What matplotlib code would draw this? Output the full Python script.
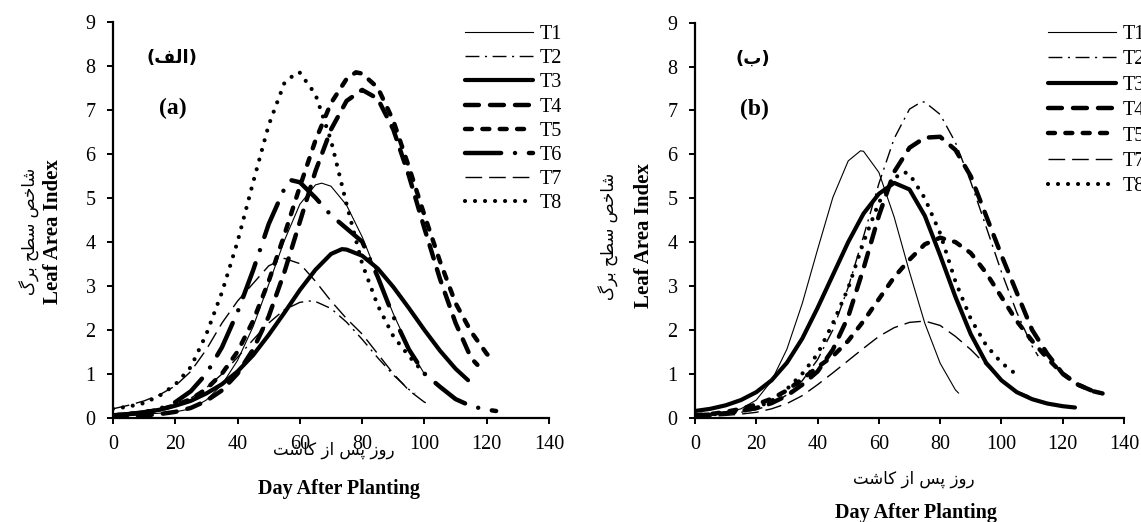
import matplotlib.pyplot as plt

plt.rcParams['font.family'] = ['Liberation Serif', 'DejaVu Sans']
plt.rcParams['lines.scale_dashes'] = False

labels = ["T1", "T2", "T3", "T4", "T5", "T6", "T7", "T8"]

# panel (a)
a_t1_x = [0, 5, 10, 15, 20, 25, 30, 35, 40, 45, 50, 55, 60, 65, 67, 70, 75, 80, 85, 90, 95, 100]
a_t1_y = [0.05, 0.06, 0.08, 0.1, 0.13, 0.2, 0.4, 0.75, 1.3, 2.07, 3.03, 4.02, 4.85, 5.29, 5.33, 5.26, 4.83, 4.11, 3.23, 2.36, 1.59, 0.99]
a_t2_x = [0, 5, 10, 15, 20, 25, 30, 35, 40, 45, 50, 55, 60, 63, 65, 70, 75, 80, 85, 90, 95, 97]
a_t2_y = [0.05, 0.07, 0.1, 0.15, 0.26, 0.44, 0.68, 0.99, 1.37, 1.77, 2.15, 2.45, 2.62, 2.65, 2.64, 2.48, 2.17, 1.78, 1.36, 0.97, 0.64, 0.55]
a_t3_x = [0, 5, 10, 15, 20, 25, 30, 35, 40, 45, 50, 55, 60, 65, 70, 73.5, 75, 80, 85, 90, 95, 100, 105, 110, 114]
a_t3_y = [0.05, 0.08, 0.12, 0.18, 0.27, 0.38, 0.55, 0.76, 1.05, 1.42, 1.88, 2.38, 2.9, 3.36, 3.72, 3.83, 3.82, 3.68, 3.39, 2.97, 2.49, 1.99, 1.52, 1.11, 0.85]
a_t4_x = [0, 5, 10, 15, 20, 25, 30, 35, 40, 45, 50, 55, 60, 65, 70, 75, 80, 85, 90, 95, 100, 105, 110, 115, 117]
a_t4_y = [0.03, 0.04, 0.05, 0.08, 0.13, 0.22, 0.38, 0.62, 1.0, 1.55, 2.3, 3.3, 4.45, 5.6, 6.55, 7.2, 7.45, 7.25, 6.55, 5.5, 4.3, 3.15, 2.15, 1.35, 1.2]
a_t5_x = [0, 5, 10, 15, 20, 25, 30, 35, 40, 45, 50, 55, 60, 65, 70, 75, 78, 80, 85, 90, 95, 100, 105, 110, 115, 120, 122]
a_t5_y = [0.05, 0.08, 0.12, 0.18, 0.28, 0.42, 0.65, 1.0, 1.5, 2.2, 3.1, 4.15, 5.25, 6.3, 7.15, 7.7, 7.85, 7.82, 7.5, 6.75, 5.7, 4.6, 3.55, 2.6, 1.95, 1.45, 1.3]
a_t6_x = [0, 5, 10, 15, 20, 25, 30, 35, 40, 45, 50, 55, 57, 60, 65, 70, 75, 80, 85, 90, 95, 100, 105, 110, 115, 120, 123]
a_t6_y = [0.05, 0.08, 0.12, 0.2, 0.35, 0.6, 1.0, 1.6, 2.4, 3.35, 4.4, 5.2, 5.4, 5.35, 5.0, 4.6, 4.3, 4.0, 3.2, 2.3, 1.55, 1.0, 0.7, 0.42, 0.26, 0.18, 0.15]
a_t7_x = [0, 5, 10, 15, 20, 25, 30, 35, 40, 45, 50, 55, 60, 65, 70, 75, 80, 85, 90, 95, 100, 102]
a_t7_y = [0.2, 0.28, 0.38, 0.52, 0.72, 1.05, 1.55, 2.15, 2.65, 3.05, 3.45, 3.62, 3.5, 3.1, 2.65, 2.25, 1.9, 1.45, 1.0, 0.62, 0.35, 0.3]
a_t8_x = [0, 5, 10, 15, 20, 25, 30, 35, 40, 45, 50, 55, 59, 60, 65, 70, 75, 80, 85, 90, 95, 100, 101]
a_t8_y = [0.2, 0.25, 0.33, 0.5, 0.75, 1.15, 1.9, 2.85, 4.0, 5.35, 6.65, 7.6, 7.85, 7.84, 7.35, 6.3, 4.85, 3.5, 2.55, 1.85, 1.4, 1.0, 0.96]

# panel (b), T6 not shown
b_t1_x = [0, 5, 10, 15, 20, 25, 30, 35, 40, 45, 50, 54, 55, 60, 65, 70, 75, 80, 85, 86]
b_t1_y = [0.05, 0.06, 0.11, 0.2, 0.4, 0.84, 1.56, 2.6, 3.83, 5.02, 5.85, 6.08, 6.07, 5.59, 4.57, 3.32, 2.15, 1.24, 0.63, 0.56]
b_t2_x = [0, 5, 10, 15, 20, 25, 30, 35, 40, 45, 50, 55, 60, 65, 70, 74, 75, 80, 85, 90, 95, 100, 105, 110, 112]
b_t2_y = [0.05, 0.06, 0.08, 0.12, 0.18, 0.3, 0.52, 0.84, 1.32, 2.0, 2.97, 4.13, 5.33, 6.36, 7.03, 7.2, 7.19, 6.91, 6.27, 5.37, 4.35, 3.32, 2.4, 1.63, 1.4]
b_t3_x = [0, 5, 10, 15, 20, 25, 30, 35, 40, 45, 50, 55, 60, 65, 70, 75, 80, 85, 90, 95, 100, 105, 110, 115, 120, 124]
b_t3_y = [0.15, 0.2, 0.28, 0.4, 0.58, 0.85, 1.25, 1.8, 2.5, 3.25, 4.0, 4.65, 5.1, 5.35, 5.2, 4.6, 3.7, 2.75, 1.9, 1.25, 0.85, 0.58, 0.42, 0.32, 0.26, 0.23]
b_t4_x = [0, 5, 10, 15, 20, 25, 30, 35, 40, 45, 50, 55, 60, 65, 70, 75, 80, 85, 90, 95, 100, 105, 110, 115, 120, 125, 130, 133]
b_t4_y = [0.05, 0.07, 0.1, 0.15, 0.22, 0.33, 0.5, 0.75, 1.05, 1.55, 2.3, 3.4, 4.6, 5.6, 6.15, 6.38, 6.4, 6.1, 5.5, 4.6, 3.7, 2.85, 2.0, 1.45, 1.0, 0.75, 0.6, 0.55]
b_t5_x = [0, 5, 10, 15, 20, 25, 30, 35, 40, 45, 50, 55, 60, 65, 70, 75, 80, 85, 90, 95, 100, 105, 110, 115, 120, 125, 130, 133]
b_t5_y = [0.05, 0.08, 0.13, 0.2, 0.3, 0.43, 0.62, 0.88, 1.15, 1.4, 1.75, 2.2, 2.7, 3.2, 3.6, 3.95, 4.1, 4.0, 3.75, 3.3, 2.75, 2.2, 1.75, 1.35, 1.0, 0.75, 0.6, 0.55]
b_t7_x = [0, 5, 10, 15, 20, 25, 30, 35, 40, 45, 50, 55, 60, 65, 70, 75, 80, 85, 90, 95, 100, 105, 109]
b_t7_y = [0.02, 0.03, 0.05, 0.08, 0.12, 0.2, 0.32, 0.5, 0.75, 1.02, 1.3, 1.58, 1.85, 2.05, 2.17, 2.2, 2.1, 1.85, 1.55, 1.2, 0.85, 0.6, 0.49]
b_t8_x = [0, 5, 10, 15, 20, 25, 30, 35, 40, 45, 50, 55, 60, 65, 68, 70, 75, 80, 85, 90, 95, 100, 106]
b_t8_y = [0.05, 0.07, 0.1, 0.15, 0.23, 0.38, 0.65, 1.0, 1.45, 2.15, 2.95, 4.0, 4.9, 5.45, 5.6, 5.55, 5.0, 4.2, 3.1, 2.25, 1.65, 1.25, 0.92]

# line styles for T1..T8
styles = {
    "T1": dict(lw=0.8, ls="-"),
    "T2": dict(lw=1.0, dashes=(10, 4, 1.5, 4)),
    "T3": dict(lw=3.0, ls="-", solid_capstyle="round"),
    "T4": dict(lw=3.2, dashes=(10, 8), dash_capstyle="round"),
    "T5": dict(lw=3.2, dashes=(5, 7.5), dash_capstyle="round"),
    "T6": dict(lw=3.2, dashes=(26, 10, 0.01, 10), dash_capstyle="round"),
    "T7": dict(lw=1.0, dashes=(12, 5)),
    "T8": dict(lw=3.0, dashes=(0.01, 7.2), dash_capstyle="round"),
}

persian_y = "\uFB92\uFEAE\uFE91 \uFEA2\uFEC4\uFEB3 \uFEBA\uFEA7\uFE8E\uFEB7"
persian_x = "\uFE96\uFEB7\uFE8E\uFB90 \uFEAF\uFE8D \uFEB2\uFB58 \uFEAF\uFEED\uFEAD"
persian_a = "(\uFED2\uFEDF\uFE8D)"
persian_b = "(\uFE8F)"

fig = plt.figure(figsize=(11.41, 5.22), dpi=100)
ax1 = fig.add_axes([0.0990, 0.2000, 0.3822, 0.7584])
ax2 = fig.add_axes([0.6091, 0.2000, 0.3760, 0.7565])

series_a = [(a_t1_x, a_t1_y, "T1"), (a_t2_x, a_t2_y, "T2"), (a_t3_x, a_t3_y, "T3"),
            (a_t4_x, a_t4_y, "T4"), (a_t5_x, a_t5_y, "T5"), (a_t6_x, a_t6_y, "T6"),
            (a_t7_x, a_t7_y, "T7"), (a_t8_x, a_t8_y, "T8")]
series_b = [(b_t1_x, b_t1_y, "T1"), (b_t2_x, b_t2_y, "T2"), (b_t3_x, b_t3_y, "T3"),
            (b_t4_x, b_t4_y, "T4"), (b_t5_x, b_t5_y, "T5"),
            (b_t7_x, b_t7_y, "T7"), (b_t8_x, b_t8_y, "T8")]

for ax, series, legx, lsp, pa, pl in [(ax1, series_a, 0.4075, 0.25, persian_a, "(a)"),
                                      (ax2, series_b, 0.9185, 0.31, persian_b, "(b)")]:
    for x, y, name in series:
        ax.plot(x, y, color="black", label=name, **styles[name])
    ax.set_xlim(0, 140)
    ax.set_ylim(0, 9)
    ax.set_xticks(range(0, 141, 20))
    ax.set_yticks(range(0, 10))
    ax.spines[["top", "right"]].set_visible(False)
    ax.spines[["left", "bottom"]].set_linewidth(1.6)
    ax.tick_params(direction="out", length=4.5, width=1.4, labelsize=14.5)
    ax.tick_params(axis="x", pad=8)
    ax.tick_params(axis="y", pad=8)
    ax.legend(loc="upper left", bbox_to_anchor=(legx, 0.952), bbox_transform=fig.transFigure,
              frameon=False, fontsize=14.5, handlelength=3.4, handletextpad=0.3,
              labelspacing=lsp, borderpad=0, borderaxespad=0)
    ax.text(19, 8.17, pa, family="DejaVu Sans", fontweight="bold", fontsize=13,
            ha="center", va="center")
    ax.text(19.3, 7.03, pl, fontweight="bold", fontsize=17, ha="center", va="center")

# axis titles (Persian + English)
ax1.text(-0.19, 0.47, persian_y, family="DejaVu Sans", fontsize=12, rotation=90,
         ha="center", va="center", transform=ax1.transAxes)
ax1.text(-0.138, 0.47, "Leaf Area Index", fontweight="bold", fontsize=15, rotation=90,
         ha="center", va="center", transform=ax1.transAxes)
ax2.text(-0.20, 0.46, persian_y, family="DejaVu Sans", fontsize=12, rotation=90,
         ha="center", va="center", transform=ax2.transAxes)
ax2.text(-0.12, 0.46, "Leaf Area Index", fontweight="bold", fontsize=15, rotation=90,
         ha="center", va="center", transform=ax2.transAxes)

fig.text(334 / 1141, 1 - 450 / 522, persian_x, family="DejaVu Sans", fontsize=12,
         ha="center", va="center")
fig.text(339 / 1141, 1 - 489 / 522, "Day After Planting", fontweight="bold", fontsize=14.5,
         ha="center", va="center")
fig.text(914 / 1141, 1 - 479 / 522, persian_x, family="DejaVu Sans", fontsize=12,
         ha="center", va="center")
fig.text(916 / 1141, 1 - 513 / 522, "Day After Planting", fontweight="bold", fontsize=14.5,
         ha="center", va="center")

fig.savefig("out.png", dpi=100)
